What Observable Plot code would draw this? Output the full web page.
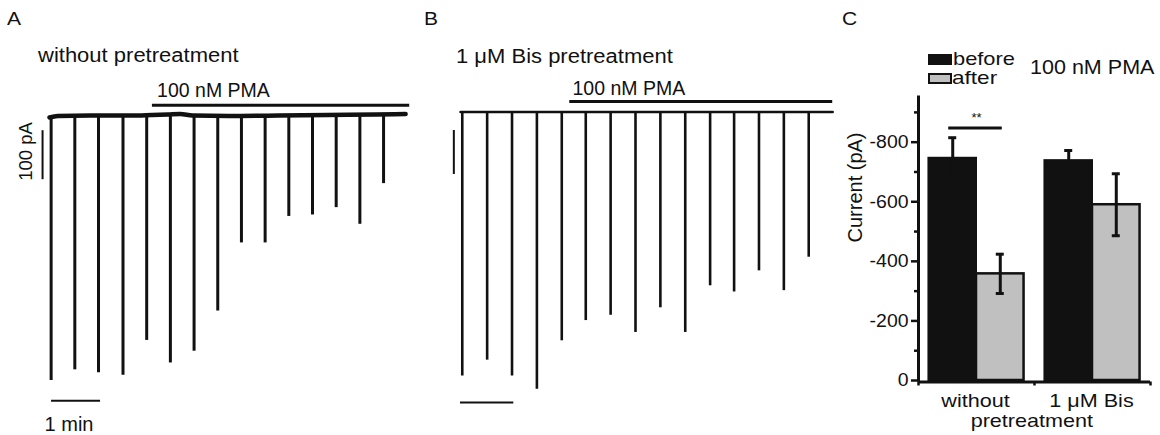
<!DOCTYPE html>
<html>
<head>
<meta charset="utf-8">
<script src="https://cdn.jsdelivr.net/npm/d3@7"></script>
<script src="https://cdn.jsdelivr.net/npm/@observablehq/plot@0.6"></script>
<style>
  html, body { margin: 0; padding: 0; background: #fff; }
  #wrap { position: relative; width: 1160px; height: 435px; overflow: hidden; background: #fff; }
  #wrap svg { position: absolute; top: 0; }
</style>
</head>
<body>
<div id="wrap"></div>
<script>
// ---------------- data ----------------
// Panel A: without pretreatment (time in s, current in pA, inward = negative)
const spikeTimesA = [2, 31, 60, 90, 119, 148, 177, 206, 235, 264, 293, 322, 351, 380, 409];
const spikeAmpA   = [540, 518, 524, 529, 458, 504, 480, 398, 259, 259, 205, 202, 187, 221, 138];
const baseTimeA   = [0, 10, 50, 100, 125, 145, 160, 175, 220, 280, 340, 400, 436];
const baseCurA    = [-3, 0, 1, 1, 2, 3, 4, 1, 0, 1, 2, 3, 4];
const pmaA        = [126, 441];

// Panel B: 1 µM Bis pretreatment
const spikeTimesB = [2, 30, 58, 86, 114, 141, 169, 197, 225, 253, 281, 308, 336, 364, 392];
const spikeAmpB   = [600, 564, 600, 630, 520, 474, 462, 501, 445, 501, 395, 409, 361, 406, 330];
const baseTimeB   = [0, 419];
const baseCurB    = [0, 0];
const pmaB        = [123, 419];

// Panel C: bar chart
const groups     = ["without pretreatment", "1 μM Bis"];
const before     = [-746, -738];
const beforeErr  = [69, 34];
const after      = [-358, -590];
const afterErr   = [66, 104];
const yTicksC    = [0, -200, -400, -600, -800];
const yMinorC    = [-100, -300, -500, -700, -900];
const xTicksC    = [-0.5, 0.5, 1.5];
const seriesNames = ["before", "after"];

// ---------------- style / layout ----------------
const FONT = "Liberation Sans, Arial, Helvetica, sans-serif";
const ink = "#111";
const grey = "#c0c0c0";
const W = document.getElementById("wrap");
const noBg = {background: "transparent", overflow: "visible"};

function htmlText(str, left, baseline, size, sx = 1) {
  const d = document.createElement("div");
  d.textContent = str;
  Object.assign(d.style, {
    position: "absolute", left: left + "px", top: (baseline - 0.8465 * size) + "px",
    fontSize: size + "px", lineHeight: "1", whiteSpace: "nowrap", color: ink,
    fontFamily: FONT, transformOrigin: "0 0", transform: `scaleX(${sx})`
  });
  W.appendChild(d);
}
function swatch(left, top, w, h, fill, border) {
  const d = document.createElement("div");
  Object.assign(d.style, {
    position: "absolute", left: left + "px", top: top + "px", width: w + "px", height: h + "px",
    background: fill, boxSizing: "border-box", border: border ? `2px solid ${ink}` : "none"
  });
  W.appendChild(d);
}

// ---------------- Panel A ----------------
const iA = spikeTimesA.map((_, i) => i);
const pmaLevelA = 22;
const plotA = Plot.plot({
  width: 420, height: 435,
  marginLeft: 49, marginRight: 10.8, marginTop: 100.8, marginBottom: 25.5,
  style: noBg,
  x: {domain: [0, 441], axis: null},
  y: {domain: [-600, 30], axis: null},
  marks: [
    Plot.ruleX(iA, {x: i => spikeTimesA[i], y1: 0, y2: i => -spikeAmpA[i], stroke: ink, strokeWidth: 3}),
    Plot.line(baseTimeA.map((_, i) => i), {x: i => baseTimeA[i], y: i => baseCurA[i], stroke: ink, strokeWidth: 4.5, strokeLinejoin: "round", curve: "monotone-x"}),
    Plot.ruleY([pmaA], {x1: d => d[0], x2: d => d[1], y: pmaLevelA, stroke: ink, strokeWidth: 3}),
    Plot.text(["100 nM PMA"], {x: pmaA[0], y: pmaLevelA, dx: 4.7, dy: -8, textAnchor: "start", lineAnchor: "bottom", fontSize: 19.5, fontFamily: FONT, fill: ink}),
    // scale bars: 100 pA and 1 min
    Plot.ruleX([0], {x: -8.5, y1: -30, y2: -130, stroke: ink, strokeWidth: 2}),
    Plot.text(["100 pA"], {x: -8.5, y: -80, rotate: -90, dx: -10.3, dy: -3.7, lineAnchor: "bottom", fontSize: 18.5, fontFamily: FONT, fill: ink}),
    Plot.ruleY([0], {x1: 2.5, x2: 62.5, y: -581, stroke: ink, strokeWidth: 2}),
    Plot.text(["1 min"], {x: 2.5, y: -581, dx: -7, dy: 30, textAnchor: "start", lineAnchor: "bottom", fontSize: 20, fontFamily: FONT, fill: ink})
  ]
});
plotA.style.left = "0px";
W.appendChild(plotA);

// ---------------- Panel B ----------------
const iB = spikeTimesB.map((_, i) => i);
const pmaLevelB = 24;
const plotB = Plot.plot({
  width: 420, height: 435,
  marginLeft: 40, marginRight: 6.9, marginTop: 98.3, marginBottom: 15.5,
  style: noBg,
  x: {domain: [0, 420], axis: null},
  y: {domain: [-700, 30], axis: null},
  marks: [
    Plot.ruleX(iB, {x: i => spikeTimesB[i], y1: 0, y2: i => -spikeAmpB[i], stroke: ink, strokeWidth: 2.6}),
    Plot.line(baseTimeB.map((_, i) => i), {x: i => baseTimeB[i], y: i => baseCurB[i], stroke: ink, strokeWidth: 2.5}),
    Plot.ruleY([pmaB], {x1: d => d[0], x2: d => d[1], y: pmaLevelB, stroke: ink, strokeWidth: 3}),
    Plot.text(["100 nM PMA"], {x: pmaB[0], y: pmaLevelB, dx: 2.7, dy: -6.5, textAnchor: "start", lineAnchor: "bottom", fontSize: 19.5, fontFamily: FONT, fill: ink}),
    Plot.ruleX([0], {x: -7.5, y1: -42, y2: -142, stroke: ink, strokeWidth: 2}),
    Plot.ruleY([0], {x1: 0, x2: 60, y: -660, stroke: ink, strokeWidth: 2})
  ]
});
plotB.style.left = "420px";
W.appendChild(plotB);

// ---------------- Panel C ----------------
const iC = groups.map((_, i) => i);
const half = 0.41, mid = 0.205;
const sigLevel = -848;
const plotC = Plot.plot({
  width: 320, height: 435,
  marginLeft: 78, marginRight: 10, marginTop: 97, marginBottom: 55,
  style: noBg,
  x: {domain: [-0.5, 1.5], axis: null},
  y: {domain: [0, -950], axis: null},
  marks: [
    // bars
    Plot.rect(iC, {x1: i => i - half, x2: i => i, y1: 0, y2: i => before[i], fill: ink, stroke: ink, strokeWidth: 2}),
    Plot.rect(iC, {x1: i => i, x2: i => i + half, y1: 0, y2: i => after[i], fill: grey, stroke: ink, strokeWidth: 2.5}),
    // error bars
    Plot.ruleX(iC, {x: i => i - mid, y1: i => before[i] - beforeErr[i], y2: i => before[i] + beforeErr[i], stroke: ink, strokeWidth: 3}),
    Plot.ruleY(iC, {x1: i => i - mid, x2: i => i - mid, y: i => before[i] - beforeErr[i], insetLeft: -4, insetRight: -4, stroke: ink, strokeWidth: 3}),
    Plot.ruleX(iC, {x: i => i + mid, y1: i => after[i] - afterErr[i], y2: i => after[i] + afterErr[i], stroke: ink, strokeWidth: 3}),
    Plot.ruleY(iC, {x1: i => i + mid, x2: i => i + mid, y: i => after[i] - afterErr[i], insetLeft: -4, insetRight: -4, stroke: ink, strokeWidth: 3}),
    Plot.ruleY(iC, {x1: i => i + mid, x2: i => i + mid, y: i => after[i] + afterErr[i], insetLeft: -4, insetRight: -4, stroke: ink, strokeWidth: 3}),
    // significance
    Plot.ruleY([0], {x1: -mid, x2: mid, y: sigLevel, insetLeft: -4, insetRight: -2, stroke: ink, strokeWidth: 3}),
    Plot.text(["**"], {x: 0, y: sigLevel, dy: -10.5, fontSize: 13, fontFamily: FONT, fill: ink}),
    // axes
    Plot.ruleX([-0.5], {x: d => d, y1: 0, y2: -950, stroke: ink, strokeWidth: 3, strokeLinecap: "square"}),
    Plot.ruleY([0], {x1: -0.5, x2: 1.5, y: 0, dy: 1.5, stroke: ink, strokeWidth: 3}),
    Plot.ruleY(yTicksC, {y: d => d, x1: -0.5, x2: -0.5, insetLeft: -7, stroke: ink, strokeWidth: 2.5}),
    Plot.ruleY(yMinorC, {y: d => d, x1: -0.5, x2: -0.5, insetLeft: -4, stroke: ink, strokeWidth: 2.5}),
    Plot.ruleX(xTicksC, {x: d => d, y1: 0, y2: 0, dy: 1.5, insetBottom: -4, stroke: ink, strokeWidth: 2.5}),
    Plot.text(yTicksC, {x: -0.5, y: d => d, text: d => String(d), dx: -10, textAnchor: "end", fontSize: 18, fontFamily: FONT, fill: ink, ariaDescription: "stretch 1.08"}),
    Plot.text(["Current (pA)"], {frameAnchor: "left", rotate: -90, dx: -56.3, dy: 3.5, lineAnchor: "bottom", fontSize: 20, fontFamily: FONT, fill: ink}),
    // category labels
    Plot.text(["without"], {x: 0, y: 0, dx: -1, dy: 26, lineAnchor: "bottom", fontSize: 18.6, fontFamily: FONT, fill: ink, ariaDescription: "stretch 1.16"}),
    Plot.text(["pretreatment"], {x: 0, y: 0, dx: 55.3, dy: 46.7, lineAnchor: "bottom", fontSize: 18.6, fontFamily: FONT, fill: ink, ariaDescription: "stretch 1.16"}),
    Plot.text(["1 μM Bis"], {x: 1, y: 0, dx: -1, dy: 26, lineAnchor: "bottom", fontSize: 18.6, fontFamily: FONT, fill: ink, ariaDescription: "stretch 1.16"})
  ]
});
plotC.style.left = "840px";
W.appendChild(plotC);

// horizontal stretch of tagged SVG text (real text kept)
document.querySelectorAll('g[aria-description^="stretch"]').forEach(g => {
  const f = parseFloat(g.getAttribute("aria-description").split(" ")[1]) || 1;
  g.querySelectorAll("text").forEach(t => {
    const len = t.getComputedTextLength();
    t.setAttribute("textLength", (len * f).toFixed(2));
    t.setAttribute("lengthAdjust", "spacingAndGlyphs");
  });
});

// ---------------- titles / legend ----------------
htmlText("A", 7, 26, 17.5, 1.2);
htmlText("without pretreatment", 38.3, 62.3, 20, 1.1);
htmlText("B", 424, 26, 17.5, 1.2);
htmlText("1 μM Bis pretreatment", 456, 63.3, 20, 1.1);
htmlText("C", 841.7, 26, 17.5, 1.2);
swatch(928.3, 54, 23.4, 11, ink, false);
swatch(928.3, 73.3, 23.4, 11, grey, true);
htmlText(seriesNames[0], 952.7, 66, 18.5, 1.18);
htmlText(seriesNames[1], 952.2, 85, 18.5, 1.22);
htmlText("100 nM PMA", 1030, 74.3, 20.5, 1.05);
</script>
</body>
</html>
